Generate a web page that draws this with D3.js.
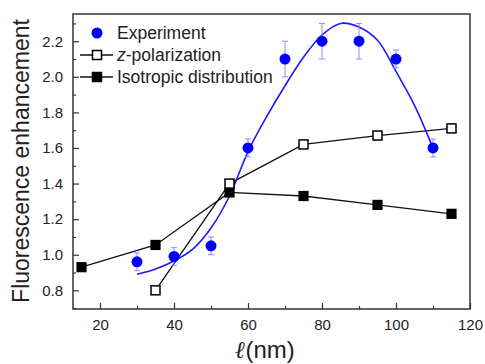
<!DOCTYPE html>
<html>
<head>
<meta charset="utf-8">
<script src="https://cdn.jsdelivr.net/npm/d3@7"></script>
<style>
    body { margin: 0; background: #fff; }
    text { font-family: "Liberation Sans", Arial, sans-serif; fill: #222; }
</style>
</head>
<body>
<div id="svg-container"></div>
<script>
// ---------- data ----------
const expX = [30, 40, 50, 60, 70, 80, 90, 100, 110];
const expY = [0.96, 0.99, 1.05, 1.60, 2.10, 2.20, 2.20, 2.10, 1.60];
const expErr = [0.05, 0.05, 0.05, 0.05, 0.10, 0.10, 0.10, 0.05, 0.05];

const fitX = [30, 35, 40, 45, 50, 55, 60, 65, 70, 75, 80, 85, 90, 95, 100, 105, 109.6];
const fitY = [0.89, 0.92, 0.965, 1.03, 1.15, 1.33, 1.58, 1.775, 1.95, 2.11, 2.235, 2.30, 2.28, 2.205, 2.03, 1.84, 1.62];

const zpolX = [35, 55, 75, 95, 115];
const zpolY = [0.80, 1.40, 1.62, 1.67, 1.71];

const isoX = [15, 35, 55, 75, 95, 115];
const isoY = [0.93, 1.055, 1.35, 1.33, 1.28, 1.23];

const xTicks = [20, 40, 60, 80, 100, 120];
const xMinor = [30, 50, 70, 90, 110];
const yTicks = [0.8, 1.0, 1.2, 1.4, 1.6, 1.8, 2.0, 2.2];
const yMinor = [0.7, 0.9, 1.1, 1.3, 1.5, 1.7, 1.9, 2.1, 2.3];

const legendNames = ["Experiment", "-polarization", "Isotropic distribution"];

const W = 485, H = 364;
const pLeft = 73, pRight = 470, pTop = 14, pBottom = 309;

const svg = d3.select("#svg-container").append("svg")
    .attr("width", W)
    .attr("height", H);

const x = d3.scaleLinear().domain([12.7, 120]).range([pLeft, pRight]);
const y = d3.scaleLinear().domain([0.695, 2.353]).range([pBottom, pTop]);

//----------- axes (ticks pointing inward) -----------
const xAxis = d3.axisBottom(x).tickValues(xTicks).tickSizeInner(-6).tickSizeOuter(0).tickPadding(10);
const gx = svg.append("g").attr("transform", `translate(0,${pBottom})`).call(xAxis);
gx.select(".domain").remove();
gx.selectAll("line").attr("stroke", "#333").attr("stroke-width", 1.2);
gx.selectAll("text").attr("font-size", 15).attr("fill", "#222")
    .attr("font-family", "Liberation Sans, Arial, sans-serif");

const gxm = svg.append("g").attr("transform", `translate(0,${pBottom})`)
    .call(d3.axisBottom(x).tickValues(xMinor).tickSizeInner(-3).tickSizeOuter(0).tickFormat(""));
gxm.select(".domain").remove();
gxm.selectAll("line").attr("stroke", "#333").attr("stroke-width", 1.2);

const yAxis = d3.axisLeft(y).tickValues(yTicks).tickSizeInner(-6).tickSizeOuter(0)
    .tickPadding(10).tickFormat(d3.format(".1f"));
const gy = svg.append("g").attr("transform", `translate(${pLeft},0)`).call(yAxis);
gy.select(".domain").remove();
gy.selectAll("line").attr("stroke", "#333").attr("stroke-width", 1.2);
gy.selectAll("text").attr("font-size", 15).attr("fill", "#222")
    .attr("font-family", "Liberation Sans, Arial, sans-serif");

const gym = svg.append("g").attr("transform", `translate(${pLeft},0)`)
    .call(d3.axisLeft(y).tickValues(yMinor).tickSizeInner(-3).tickSizeOuter(0).tickFormat(""));
gym.select(".domain").remove();
gym.selectAll("line").attr("stroke", "#333").attr("stroke-width", 1.2);

// frame
svg.append("rect")
    .attr("x", pLeft).attr("y", pTop)
    .attr("width", pRight - pLeft).attr("height", pBottom - pTop)
    .attr("fill", "none").attr("stroke", "#333").attr("stroke-width", 1.5);

//----------- axis titles -----------
svg.append("text")
    .attr("transform", `translate(29,161) rotate(-90)`)
    .attr("text-anchor", "middle")
    .attr("font-size", 23)
    .text("Fluorescence enhancement");

const xt = svg.append("text")
    .attr("x", 265).attr("y", 358)
    .attr("text-anchor", "middle")
    .attr("font-size", 24);
xt.append("tspan").attr("font-style", "italic").attr("font-weight", "bold")
    .attr("font-family", "DejaVu Serif, serif").text("\u2113");
xt.append("tspan").text("(nm)");

//----------- lines -----------
const line = d3.line().x(d => x(d[0])).y(d => y(d[1]));
const fitLine = d3.line().x(d => x(d[0])).y(d => y(d[1])).curve(d3.curveCatmullRom);

svg.append("path")
    .attr("d", line(isoX.map((v, i) => [v, isoY[i]])))
    .attr("fill", "none").attr("stroke", "#111").attr("stroke-width", 1.3);

svg.append("path")
    .attr("d", line(zpolX.map((v, i) => [v, zpolY[i]])))
    .attr("fill", "none").attr("stroke", "#111").attr("stroke-width", 1.3);

svg.append("path")
    .attr("d", fitLine(fitX.map((v, i) => [v, fitY[i]])))
    .attr("fill", "none").attr("stroke", "#1a1aff").attr("stroke-width", 1.6);

//----------- error bars -----------
const eb = svg.append("g").attr("stroke", "#8c8cff").attr("stroke-width", 1);
expX.forEach((v, i) => {
    const cx = x(v), y0 = y(expY[i] - expErr[i]), y1 = y(expY[i] + expErr[i]);
    eb.append("line").attr("x1", cx).attr("x2", cx).attr("y1", y0).attr("y2", y1);
    eb.append("line").attr("x1", cx - 3).attr("x2", cx + 3).attr("y1", y0).attr("y2", y0);
    eb.append("line").attr("x1", cx - 3).attr("x2", cx + 3).attr("y1", y1).attr("y2", y1);
});

//----------- markers -----------
const sq = 9;
svg.selectAll(".iso").data(isoX).enter().append("rect")
    .attr("x", (d, i) => x(d) - sq / 2)
    .attr("y", (d, i) => y(isoY[i]) - sq / 2)
    .attr("width", sq).attr("height", sq)
    .attr("fill", "#000").attr("stroke", "#000").attr("stroke-width", 1.2);

svg.selectAll(".zpol").data(zpolX).enter().append("rect")
    .attr("x", (d, i) => x(d) - sq / 2)
    .attr("y", (d, i) => y(zpolY[i]) - sq / 2)
    .attr("width", sq).attr("height", sq)
    .attr("fill", "#fff").attr("stroke", "#000").attr("stroke-width", 1.5);

svg.selectAll(".exp").data(expX).enter().append("circle")
    .attr("cx", d => x(d))
    .attr("cy", (d, i) => y(expY[i]))
    .attr("r", 5.5)
    .attr("fill", "#0000ff");

//----------- legend -----------
const lg = svg.append("g");
const rows = [33, 55, 77];
lg.append("circle").attr("cx", 97).attr("cy", rows[0]).attr("r", 5.5).attr("fill", "#0000ff");
[1, 2].forEach(k => {
    lg.append("line").attr("x1", 80).attr("x2", 113).attr("y1", rows[k]).attr("y2", rows[k])
        .attr("stroke", "#111").attr("stroke-width", 1.3);
    lg.append("rect").attr("x", 97 - sq / 2).attr("y", rows[k] - sq / 2)
        .attr("width", sq).attr("height", sq)
        .attr("fill", k === 1 ? "#fff" : "#000").attr("stroke", "#000").attr("stroke-width", 1.5);
});
legendNames.forEach((name, k) => {
    const t = lg.append("text").attr("x", 117).attr("y", rows[k] + 6).attr("font-size", 17.5);
    if (k === 1) t.append("tspan").attr("font-style", "italic").text("z");
    t.append("tspan").text(name);
});
</script>
</body>
</html>
